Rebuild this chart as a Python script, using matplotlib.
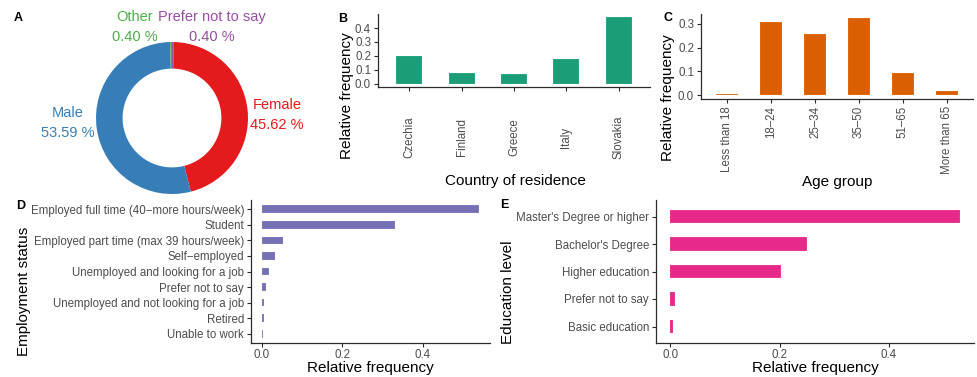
import matplotlib
matplotlib.use("Agg")
import matplotlib.pyplot as plt
import numpy as np

plt.rcParams["font.family"] = ["Liberation Sans", "DejaVu Sans"]

# --- data -------------------------------------------------------------
gender_labels = ["Prefer not to say", "Female", "Male", "Other"]
gender_pct = [0.40, 45.62, 53.59, 0.40]
gender_colors = ["#984EA3", "#E41A1C", "#377EB8", "#4DAF4A"]

countries = ["Czechia", "Finland", "Greece", "Italy", "Slovakia"]
country_freq = [0.196, 0.077, 0.073, 0.177, 0.477]

age_groups = ["Less than 18", "18–24", "25–34", "35–50", "51–65", "More than 65"]
age_freq = [0.006, 0.306, 0.256, 0.325, 0.091, 0.016]

employment = ["Employed full time (40−more hours/week)", "Student",
              "Employed part time (max 39 hours/week)", "Self−employed",
              "Unemployed and looking for a job", "Prefer not to say",
              "Unemployed and not looking for a job", "Retired",
              "Unable to work"]
employment_freq = [0.540, 0.332, 0.052, 0.032, 0.017, 0.010, 0.006, 0.006, 0.002]

education = ["Master's Degree or higher", "Bachelor's Degree", "Higher education",
             "Prefer not to say", "Basic education"]
education_freq = [0.530, 0.251, 0.202, 0.008, 0.0055]

W, H = 977, 377
fig = plt.figure(figsize=(W / 100, H / 100), dpi=100)

AX_COL = "#2b2b2b"
TICK_COL = "#4D4D4D"
TITLE_FS = 11
TICK_FS = 8.3


def rect(l, t, r, b):
    return [l / W, 1 - b / H, (r - l) / W, (b - t) / H]


def ftext(x, y, s, **kw):
    fig.text(x / W, 1 - y / H, s, ha="center", va="center", **kw)


def style(ax):
    for side in ("top", "right"):
        ax.spines[side].set_visible(False)
    for side in ("left", "bottom"):
        ax.spines[side].set_color(AX_COL)
        ax.spines[side].set_linewidth(0.9)
    ax.tick_params(colors=AX_COL, labelcolor=TICK_COL, labelsize=TICK_FS,
                   length=3, width=0.8, pad=2)


def expand(vmax):
    return (-0.05 * vmax, 1.05 * vmax)


edge = (1, 1, 1, 0.35)

# --- A: donut ---------------------------------------------------------
ax = fig.add_axes(rect(96, 42, 248, 194))
ax.pie(gender_pct, colors=gender_colors, startangle=90, counterclock=False,
       radius=1, wedgeprops=dict(width=0.35, edgecolor="none"))
ax.set_xlim(-1, 1)
ax.set_ylim(-1, 1)
ax.set_aspect("equal")

lab_pos = {"Other": (135, 17, 37), "Prefer not to say": (212, 17, 37),
           "Male": (68, 113, 133), "Female": (277, 105, 125)}
for name, pct, col in zip(gender_labels, gender_pct, gender_colors):
    x, y1, y2 = lab_pos[name]
    ftext(x, y1, name, color=col, fontsize=10.5)
    ftext(x, y2, f"{pct:.2f} %", color=col, fontsize=10.5)

# --- B: country -------------------------------------------------------
ax = fig.add_axes(rect(378, 14, 650, 87))
style(ax)
ax.bar(range(len(countries)), country_freq, width=0.5, color="#1B9E77",
       edgecolor=edge, linewidth=0.3)
ax.set_xlim(-0.6, len(countries) - 0.4)
ax.set_ylim(*expand(max(country_freq)))
ax.set_yticks(np.arange(0, 0.45, 0.1))
ax.set_yticklabels([f"{v:.1f}" for v in np.arange(0, 0.45, 0.1)])
ax.set_xticks(range(len(countries)))
ax.set_xticklabels(countries, rotation=90, va="center")
ax.tick_params(axis="x", pad=33)
ftext(515, 181, "Country of residence", fontsize=TITLE_FS)
ftext(347, 96, "Relative frequency", fontsize=TITLE_FS, rotation=90)

# --- C: age -----------------------------------------------------------
ax = fig.add_axes(rect(701, 14, 973, 99))
style(ax)
ax.bar(range(len(age_groups)), age_freq, width=0.5, color="#D95F02",
       edgecolor=edge, linewidth=0.3)
ax.set_xlim(-0.6, len(age_groups) - 0.4)
ax.set_ylim(*expand(max(age_freq)))
ax.set_yticks(np.arange(0, 0.35, 0.1))
ax.set_yticklabels([f"{v:.1f}" for v in np.arange(0, 0.35, 0.1)])
ax.set_xticks(range(len(age_groups)))
ax.set_xticklabels(age_groups, rotation=90)
ftext(837, 182, "Age group", fontsize=TITLE_FS)
ftext(668, 98, "Relative frequency", fontsize=TITLE_FS, rotation=90)

# --- D: employment ----------------------------------------------------
ax = fig.add_axes(rect(251, 200, 490, 343))
style(ax)
ax.tick_params(axis="x", pad=1)
ax.barh(range(len(employment)), employment_freq, height=0.5, color="#7570B3",
        edgecolor=edge, linewidth=0.3)
ax.set_ylim(len(employment) - 0.4, -0.6)
ax.set_xlim(*expand(max(employment_freq)))
ax.set_yticks(range(len(employment)))
ax.set_yticklabels(employment)
ax.set_xticks([0, 0.2, 0.4])
ax.set_xticklabels(["0.0", "0.2", "0.4"])
ftext(370, 368, "Relative frequency", fontsize=TITLE_FS)
ftext(24, 291, "Employment status", fontsize=TITLE_FS, rotation=90)

# --- E: education -----------------------------------------------------
ax = fig.add_axes(rect(656, 200, 974, 343))
style(ax)
ax.tick_params(axis="x", pad=1)
ax.barh(range(len(education)), education_freq, height=0.5, color="#E7298A",
        edgecolor=edge, linewidth=0.3)
ax.set_ylim(len(education) - 0.4, -0.6)
ax.set_xlim(*expand(max(education_freq)))
ax.set_yticks(range(len(education)))
ax.set_yticklabels(education)
ax.set_xticks([0, 0.2, 0.4])
ax.set_xticklabels(["0.0", "0.2", "0.4"])
ftext(815, 368, "Relative frequency", fontsize=TITLE_FS)
ftext(508, 292, "Education level", fontsize=TITLE_FS, rotation=90)

# --- panel letters ----------------------------------------------------
for letter, (x, y) in {"A": (18, 18), "B": (343, 19), "C": (668, 18),
                       "D": (21, 206), "E": (504, 205)}.items():
    ftext(x, y, letter, fontsize=9, fontweight="bold")

fig.savefig("out.png", dpi=100)
